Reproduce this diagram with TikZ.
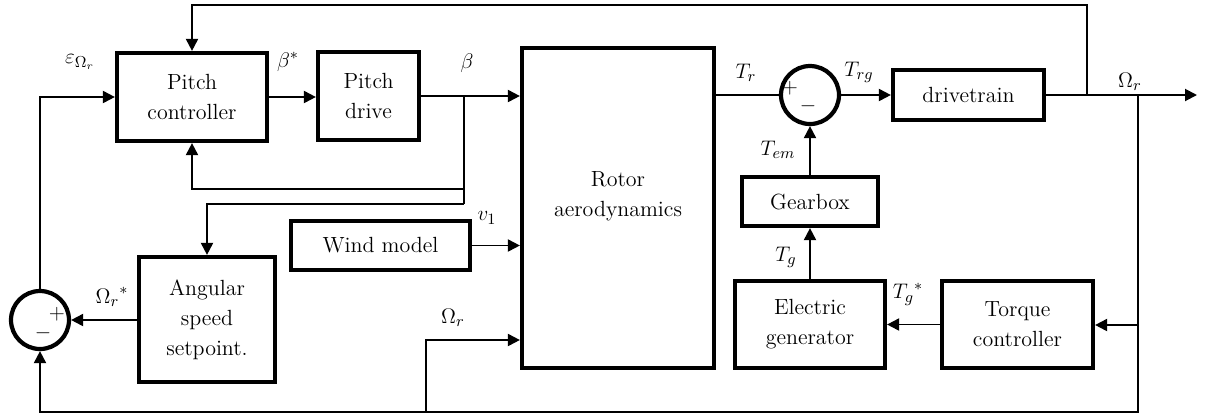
\documentclass[tikz,border=0pt]{standalone}
\usepackage{amsmath, amssymb}
\usepackage{tikz}
\usetikzlibrary{arrows.meta, calc}

\begin{document}
\begin{tikzpicture}[
        x = 0.02cm, y = -0.02cm,
        font = \fontsize{12.5}{17}\selectfont,
        box/.style = {draw, line width=2.4pt, align=center, inner sep=2pt},
        sum/.style = {draw, circle, line width=2.4pt, minimum size=1.16cm, inner sep=0pt},
        line/.style = {draw, line width=1.1pt, -{Triangle[length=0.24cm, width=0.24cm]}},
        plainline/.style = {draw, line width=1.1pt},
        sign/.style = {font=\fontsize{13}{13}\selectfont, inner sep=0pt}
    ]
        \useasboundingbox (0,0) rectangle (1211,417);

        % Blocks
        \node (pitch_ctrl) [box, minimum width=3.0cm, minimum height=1.76cm] at (192,97) {Pitch\\controller};
        \node (pitch_drive) [box, minimum width=2.02cm, minimum height=1.76cm] at (368.5,96) {Pitch\\drive};
        \node (rotor) [box, minimum width=3.84cm, minimum height=6.4cm] at (618,208) {Rotor\\aerodynamics\\[-0.04cm]};
        \node (drivetrain) [box, minimum width=3.02cm, minimum height=1.0cm] at (968.5,95) {drivetrain};
        \node (gearbox) [box, minimum width=2.72cm, minimum height=0.98cm] at (810,201.5) {Gearbox};
        \node (elec_gen) [box, minimum width=3.0cm, minimum height=1.74cm] at (810,324.5) {Electric\\generator};
        \node (torque_ctrl) [box, minimum width=3.02cm, minimum height=1.74cm] at (1017.5,324.5) {Torque\\controller};
        \node (wind_model) [box, minimum width=3.58cm, minimum height=0.98cm] at (380.5,245.5) {Wind model};
        \node (speed_set) [box, minimum width=2.72cm, minimum height=2.5cm] at (207,319.5) {Angular\\speed\\setpoint.};

        % Summing junctions
        \node (sum_torque) [sum] at (810,95) {};
        \node [sign] at (790,88) {$+$};
        \node [sign] at (808,106) {$-$};
        \node (sum_speed) [sum] at (40,320) {};
        \node [sign] at (57,314) {$+$};
        \node [sign] at (43,333) {$-$};

        % Branch points
        \coordinate (tap_beta) at (464,96);
        \coordinate (tap_top) at (1087,95);
        \coordinate (tap_out) at (1138,95);
        \coordinate (tap_bottom) at (426,412);
        \coordinate (omega_out) at (1197,95);

        % Pitch path
        \draw [line] (pitch_ctrl.east) -- (pitch_drive.west |- pitch_ctrl.east);
        \draw [line] (pitch_drive.east) -- (rotor.west |- pitch_drive.east);
        \draw [line] (tap_beta) -- (464,189) -| (pitch_ctrl.south);
        \draw [plainline] (tap_beta) -- (464,204);
        \draw [line] (464,204) -| (speed_set.north);
        \draw [line] (wind_model.east) -- (rotor.west |- wind_model.east);

        % Torque path
        \draw [plainline] (rotor.east |- sum_torque) -- (sum_torque.west);
        \draw [line] (sum_torque.east) -- (drivetrain.west);
        \draw [line] (drivetrain.east) -- (omega_out);
        \draw [line] (gearbox.north) -- (sum_torque.south);
        \draw [line] (elec_gen.north) -- (gearbox.south);
        \draw [line] (torque_ctrl.west) -- (elec_gen.east);

        % Feedback of rotor speed
        \draw [line] (tap_top) -- (1087,5) -| (pitch_ctrl.north);
        \draw [line] (tap_out) -- (1138,412) -| (sum_speed.south);
        \draw [line] (1138,325) -- (torque_ctrl.east |- 1138,325);
        \draw [line] (tap_bottom) -- (426,340) -- (rotor.west |- 426,340);
        \draw [line] (speed_set.west |- sum_speed) -- (sum_speed.east);
        \draw [line] (sum_speed.north) |- (pitch_ctrl.west);

        % Signal labels
        \node (lbl_eps) at (80,62) {$\varepsilon_{\Omega_r}$};
        \node (lbl_betastar) at (288,62) {$\beta^{*}$};
        \node (lbl_beta) at (467,63) {$\beta$};
        \node (lbl_tr) at (746,73) {$T_r$};
        \node (lbl_trg) at (859,72) {$T_{rg}$};
        \node (lbl_omega) at (1130,82) {$\Omega_r$};
        \node (lbl_tem) at (778,150) {$T_{em}$};
        \node (lbl_tg) at (786,257) {$T_g$};
        \node (lbl_tgstar) at (908,294) {${T_g}^{*}$};
        \node (lbl_v) at (487,218) {$v_1$};
        \node (lbl_omega_in) at (453,318) {$\Omega_r$};
        \node (lbl_omegastar) at (112,297) {${\Omega_r}^{*}$};
\end{tikzpicture}
\end{document}
